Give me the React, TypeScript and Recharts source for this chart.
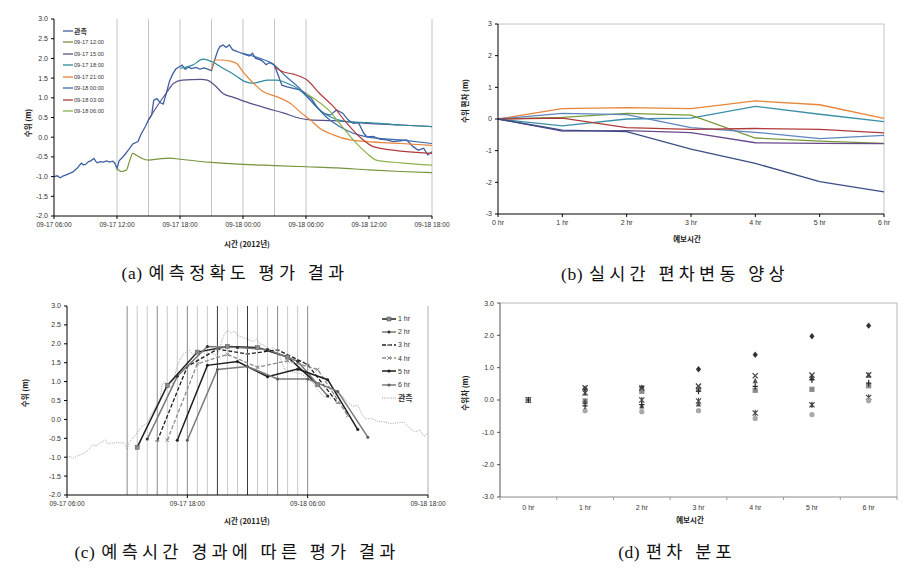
import React from 'react';
import { LineChart, Line, XAxis, YAxis, ReferenceLine, Legend, ComposedChart } from 'recharts';

const KFONT = "'Noto Sans CJK KR', 'Noto Sans', sans-serif";
const NFONT = "'Liberation Sans', 'Noto Sans CJK KR', sans-serif";
const SFONT = "'Liberation Serif', 'DejaVu Serif', 'Noto Sans CJK KR', serif";

// ---------------- data ----------------
const timeTicks6 = [0, 6, 12, 18, 24, 30, 36];
const timeLabels6 = ['09-17 06:00', '09-17 12:00', '09-17 18:00', '09-18 00:00', '09-18 06:00', '09-18 12:00', '09-18 18:00'];
const timeTicks12 = [0, 12, 24, 36];
const timeLabels12 = ['09-17 06:00', '09-17 18:00', '09-18 06:00', '09-18 18:00'];
const levelTicks = [-2, -1.5, -1, -0.5, 0, 0.5, 1, 1.5, 2, 2.5, 3];
const devTicks = [-3, -2, -1, 0, 1, 2, 3];
const issueHours = [6, 9, 12, 15, 18, 21, 24];
const hourlyLines = [7, 8, 10, 11, 13, 14, 16, 17, 19, 20, 22, 23];
const majorLines = [6, 9, 12, 21, 24];
const darkLines = [15, 18];

// observed water level (hours after 09-17 06:00, m)
const observed: [number, number][] = [
  [0, -1.0], [0.3, -0.98], [0.6, -1.03], [0.9, -0.98], [1.1, -0.96], [1.5, -0.92], [1.8, -0.88], [2.2, -0.79],
  [2.4, -0.72], [2.6, -0.66], [2.8, -0.7], [3.0, -0.69], [3.3, -0.62], [3.5, -0.6], [3.8, -0.54], [4.0, -0.62],
  [4.1, -0.65], [4.4, -0.62], [4.7, -0.63], [5.0, -0.6], [5.3, -0.63], [5.6, -0.61], [5.8, -0.66], [6.0, -0.8],
  [6.2, -0.6], [6.6, -0.49], [7.1, -0.32], [7.5, -0.17], [8.0, -0.11], [8.3, 0.08], [8.7, 0.27], [9.0, 0.44],
  [9.3, 0.56], [9.5, 0.94], [9.8, 0.98], [10.1, 0.88], [10.4, 0.84], [10.7, 1.12], [11.0, 1.42], [11.3, 1.6],
  [11.6, 1.73], [11.9, 1.78], [12.2, 1.83], [12.5, 1.72], [12.8, 1.78], [13.1, 1.74], [13.5, 1.77], [13.9, 1.73],
  [14.3, 1.76], [14.7, 1.72], [15.0, 1.69], [15.3, 1.96], [15.6, 2.2], [15.8, 2.3], [16.1, 2.34], [16.4, 2.28],
  [16.7, 2.34], [17.0, 2.22], [17.4, 2.18], [17.7, 2.15], [18.0, 2.12], [18.3, 2.09], [18.6, 2.06], [18.9, 2.13],
  [19.2, 2.0], [19.6, 1.97], [19.9, 1.92], [20.2, 1.84], [20.5, 1.89], [20.8, 1.86], [21.0, 1.82], [21.4, 1.54],
  [21.7, 1.32], [22.2, 1.28], [22.8, 1.24], [23.4, 1.2], [24.0, 1.11], [24.5, 0.99], [25.0, 0.78], [25.6, 0.61],
  [26.3, 0.56], [26.9, 0.69], [27.5, 0.61], [28.0, 0.44], [28.5, 0.35], [29.0, 0.37], [29.5, 0.1], [29.8, 0.01],
  [30.4, 0.02], [31.0, -0.05], [31.7, -0.07], [32.3, -0.11], [33.0, -0.09], [33.6, -0.07], [34.2, -0.24],
  [34.7, -0.33], [35.2, -0.28], [35.6, -0.45], [36.0, -0.37],
];

// forecasts issued at each time (panel a)
const fc1200: [number, number][] = [
  [6, -0.79], [6.4, -0.87], [6.9, -0.83], [7.2, -0.6], [7.5, -0.41], [7.8, -0.45], [8.4, -0.54], [9, -0.58],
  [10, -0.55], [11, -0.53], [12, -0.56], [15, -0.64], [18, -0.69], [21, -0.72], [24, -0.75], [27, -0.78],
  [30, -0.83], [33, -0.87], [36, -0.9],
];
const fc1500: [number, number][] = [
  [9, 0.44], [9.8, 0.78], [10.8, 1.16], [11.4, 1.37], [12.2, 1.45], [14, 1.47], [14.6, 1.45], [15.3, 1.32],
  [16.1, 1.11], [17.1, 1.01], [18.7, 0.86], [20.3, 0.73], [21.9, 0.61], [23.4, 0.48], [24.4, 0.44], [26.6, 0.42],
  [29.8, 0.35], [33, 0.31], [36, 0.27],
];
const fc1800: [number, number][] = [
  [12, 1.75], [13.2, 1.83], [14.2, 1.98], [15, 1.92], [16.1, 1.75], [17.1, 1.6], [18.2, 1.41], [19, 1.37],
  [20.3, 1.45], [21.2, 1.45], [22.2, 1.37], [23.4, 1.2], [24.4, 0.94], [25.3, 0.69], [26.6, 0.48], [28.2, 0.39],
  [29.8, 0.37], [33, 0.31], [36, 0.27],
];
const fc2100: [number, number][] = [
  [15, 1.7], [15.3, 1.96], [15.8, 1.96], [16.8, 1.93], [17.4, 1.87], [18, 1.66], [19, 1.37], [19.9, 1.16],
  [21.2, 1.03], [22.5, 0.86], [23.4, 0.65], [24.4, 0.44], [25.3, 0.23], [26.6, 0.06], [28.2, -0.07],
  [29.8, -0.11], [33, -0.16], [36, -0.21],
];
const fc0000: [number, number][] = [
  [18, 2.13], [19.6, 2.0], [20.8, 1.87], [22.1, 1.54], [23.4, 1.24], [24.7, 0.86], [25.9, 0.52], [27.2, 0.27],
  [28.5, 0.1], [29.8, 0.01], [33, -0.07], [36, -0.16],
];
const fc0300: [number, number][] = [
  [21, 1.79], [21.8, 1.66], [22.8, 1.6], [24.1, 1.45], [25.3, 1.11], [26.6, 0.78], [27.9, 0.35], [29.1, 0.01],
  [30.4, -0.24], [32.3, -0.33], [36, -0.41],
];
const fc0600: [number, number][] = [
  [24, 1.11], [25, 0.94], [26.3, 0.65], [27.2, 0.35], [28.5, -0.07], [29.8, -0.41], [30.7, -0.58], [33, -0.65],
  [36, -0.71],
];
const aNames = ['관측', '09-17 12:00', '09-17 15:00', '09-17 18:00', '09-17 21:00', '09-18 00:00', '09-18 03:00', '09-18 06:00'];

// panel b: deviation by lead time
const leadCats = ['0 hr', '1 hr', '2 hr', '3 hr', '4 hr', '5 hr', '6 hr'];
const devNavy = [0, -0.35, -0.4, -0.95, -1.4, -1.98, -2.3];
const devRed = [0, 0.03, -0.27, -0.33, -0.3, -0.33, -0.44];
const devOlive = [0, 0.05, 0.18, 0.12, -0.6, -0.7, -0.77];
const devPurple = [0, -0.38, -0.37, -0.43, -0.75, -0.77, -0.78];
const devTeal = [0, -0.22, 0.0, 0.03, 0.4, 0.15, -0.08];
const devOrange = [0, 0.33, 0.36, 0.33, 0.57, 0.45, 0.02];
const devSteel = [0, 0.18, 0.14, -0.27, -0.42, -0.62, -0.52];

// panel c: forecasts arranged by lead time
const lead1: [number, number][] = [[7, -0.74], [10, 0.9], [13, 1.78], [16, 1.93], [19, 1.9], [22, 1.65], [25, 0.92]];
const lead2: [number, number][] = [[8, -0.52], [11, 1.14], [14, 1.93], [17, 1.9], [20, 1.85], [23, 1.54], [26, 0.62]];
const lead3: [number, number][] = [[9, -0.57], [12, 1.4], [15, 1.86], [18, 1.73], [21, 1.84], [24, 1.45], [27, 0.43]];
const lead4: [number, number][] = [[10, -0.55], [13, 1.47], [16, 1.72], [19, 1.38], [22, 1.55], [25, 1.32], [28, 0.1]];
const lead5: [number, number][] = [[11, -0.55], [14, 1.43], [17, 1.53], [20, 1.13], [23, 1.33], [26, 1.05], [29, -0.27]];
const lead6: [number, number][] = [[12, -0.55], [15, 1.32], [18, 1.4], [21, 1.07], [24, 1.07], [27, 0.74], [30, -0.47]];
const cNames = ['1 hr', '2 hr', '3 hr', '4 hr', '5 hr', '6 hr', '관측'];

// panel d: deviation distribution (observed - forecast)
const dDiamond = [0, 0.35, 0.38, 0.95, 1.4, 1.97, 2.3];
const dSquare = [0, -0.03, 0.27, 0.33, 0.3, 0.33, 0.44];
const dTriangle = [0, -0.05, -0.18, -0.12, 0.6, 0.7, 0.77];
const dCross = [0, 0.38, 0.37, 0.43, 0.75, 0.77, 0.78];
const dStar = [0, 0.22, 0.0, -0.03, -0.4, -0.15, 0.08];
const dCircle = [0, -0.33, -0.36, -0.33, -0.57, -0.45, -0.02];
const dPlus = [0, -0.18, -0.14, 0.27, 0.42, 0.62, 0.52];

// captions
const captions = [
  { tag: '(a)', text: '예측정확도 평가 결과' },
  { tag: '(b)', text: '실시간 편차변동 양상' },
  { tag: '(c)', text: '예측시간 경과에 따른 평가 결과' },
  { tag: '(d)', text: '편차 분포' },
];

// ---------------- helpers ----------------
const toPts = (arr: [number, number][]) => arr.map(([h, v]) => ({ h, v }));

const aSeries = [observed, fc1200, fc1500, fc1800, fc2100, fc0000, fc0300, fc0600].map(toPts);
const aColors = ['#3F5FA3', '#77933C', '#55528A', '#2F8A9E', '#E8843A', '#3A6AAE', '#B03A3A', '#8DB24E'];

const bLines = [devOrange, devTeal, devOlive, devSteel, devRed, devPurple, devNavy];
const bColors = ['#E8843A', '#3A8EA8', '#7A9A3A', '#5E86C0', '#B03A3A', '#6A4A8F', '#3A4E86'];
const bData = leadCats.map((c, i) => {
  const row: any = { cat: c };
  bLines.forEach((arr, k) => { row['s' + k] = arr[i]; });
  return row;
});

const cSeries = [lead1, lead2, lead3, lead4, lead5, lead6].map(toPts);
const obsPts = toPts(observed);
const cStyles = [
  { stroke: '#1f1f1f', dash: undefined, w: 1.5, mk: 'sq', mc: '#8a8a8a' },
  { stroke: '#7a7a7a', dash: undefined, w: 1.5, mk: 'dot', mc: '#303030' },
  { stroke: '#1f1f1f', dash: '4 2', w: 1.3, mk: 'dash', mc: '#8a8a8a' },
  { stroke: '#8c8c8c', dash: '4 2', w: 1.3, mk: 'x', mc: '#8c8c8c' },
  { stroke: '#1f1f1f', dash: undefined, w: 1.5, mk: 'dot', mc: '#1f1f1f' },
  { stroke: '#7a7a7a', dash: undefined, w: 1.5, mk: 'dot', mc: '#5a5a5a' },
];

const dSets = [dDiamond, dSquare, dTriangle, dCross, dStar, dCircle, dPlus];
const dKinds = ['diamond', 'square', 'triangle', 'x', 'star', 'circle', 'plus'];
const dColors = ['#333333', '#8a8a8a', '#555555', '#444444', '#444444', '#a8a8a8', '#2a2a2a'];
const dData = leadCats.map((c, i) => {
  const row: any = { x: i };
  dSets.forEach((arr, k) => { row['d' + k] = arr[i]; });
  return row;
});
const D_PLOT_W = 465 - 20 - 30 - 18;

const tickStyle = { fontSize: 7, fill: '#333', fontFamily: NFONT };

const cMarker = (kind: string, color: string) => (p: any) => {
  const { cx, cy, index } = p;
  if (cx == null || cy == null) return <g key={index} />;
  if (kind === 'sq') return <rect key={index} x={cx - 2} y={cy - 2} width={4} height={4} fill={color} stroke="#555" strokeWidth={0.5} />;
  if (kind === 'dash') return <line key={index} x1={cx - 2} y1={cy} x2={cx + 2} y2={cy} stroke={color} strokeWidth={1.5} />;
  if (kind === 'x') return <path key={index} d={`M${cx - 1.8},${cy - 1.8}L${cx + 1.8},${cy + 1.8}M${cx + 1.8},${cy - 1.8}L${cx - 1.8},${cy + 1.8}`} stroke={color} strokeWidth={1} />;
  return <circle key={index} cx={cx} cy={cy} r={1.5} fill={color} />;
};

const dMarker = (kind: string, color: string) => (p: any) => {
  const { cx, cy, index } = p;
  if (cx == null || cy == null) return <g key={index} />;
  const s = 2.6;
  switch (kind) {
    case 'diamond':
      return <path key={index} d={`M${cx},${cy - s - 0.6}L${cx + s},${cy}L${cx},${cy + s + 0.6}L${cx - s},${cy}Z`} fill={color} />;
    case 'square':
      return <rect key={index} x={cx - s} y={cy - s} width={2 * s} height={2 * s} fill={color} />;
    case 'triangle':
      return <path key={index} d={`M${cx},${cy - s - 0.5}L${cx + s},${cy + s}L${cx - s},${cy + s}Z`} fill={color} />;
    case 'x':
      return <path key={index} d={`M${cx - s},${cy - s}L${cx + s},${cy + s}M${cx + s},${cy - s}L${cx - s},${cy + s}`} stroke={color} strokeWidth={1.3} />;
    case 'star':
      return <path key={index} d={`M${cx - s},${cy - s}L${cx + s},${cy + s}M${cx + s},${cy - s}L${cx - s},${cy + s}M${cx},${cy - s - 0.5}V${cy + s + 0.5}`} stroke={color} strokeWidth={1.1} />;
    case 'circle':
      return <circle key={index} cx={cx} cy={cy} r={s} fill={color} />;
    default:
      return <path key={index} d={`M${cx - s},${cy}H${cx + s}M${cx},${cy - s - 0.5}V${cy + s + 0.5}`} stroke={color} strokeWidth={1.2} />;
  }
};

const DTick = (props: any) => {
  const { x, y, payload, index } = props;
  const half = D_PLOT_W / leadCats.length / 2;
  const axisY = y - 8;
  return (
    <g>
      <line x1={x - half} y1={axisY} x2={x - half} y2={axisY + 3} stroke="#999" />
      {index === leadCats.length - 1 && <line x1={x + half} y1={axisY} x2={x + half} y2={axisY + 3} stroke="#999" />}
      <text x={x} y={y} dy="0.71em" textAnchor="middle" fontSize={7} fill="#333" fontFamily={NFONT}>
        {leadCats[payload.value]}
      </text>
    </g>
  );
};

const LegendA = () => (
  <div style={{ fontFamily: NFONT, fontSize: 5.6, color: '#333' }}>
    {aNames.map((n, i) => (
      <div key={n} style={{ display: 'flex', alignItems: 'center', height: 11.5 }}>
        <svg width={10} height={4} style={{ display: 'block' }}>
          <line x1={0} y1={2} x2={10} y2={2} stroke={aColors[i]} strokeWidth={1.3} />
        </svg>
        <span style={{ marginLeft: 1, fontFamily: i === 0 ? KFONT : NFONT, fontSize: i === 0 ? 7 : 5.6, fontWeight: i === 0 ? 700 : 400 }}>{n}</span>
      </div>
    ))}
  </div>
);

const LegendC = () => (
  <div style={{ fontFamily: NFONT, fontSize: 7, color: '#333' }}>
    {cNames.map((n, i) => {
      const st = cStyles[i];
      return (
        <div key={n} style={{ display: 'flex', alignItems: 'center', height: 13.2 }}>
          <svg width={14} height={6} style={{ display: 'block' }}>
            {st ? (
              <g>
                <line x1={0} y1={3} x2={14} y2={3} stroke={st.stroke} strokeWidth={st.w} strokeDasharray={st.dash} />
                {cMarker(st.mk, st.mc)({ cx: 7, cy: 3, index: 0 })}
              </g>
            ) : (
              <line x1={0} y1={3} x2={14} y2={3} stroke="#9a9a9a" strokeWidth={1} strokeDasharray="1 1.2" />
            )}
          </svg>
          <span style={{ marginLeft: 2, fontFamily: i === 6 ? KFONT : NFONT, fontWeight: i === 6 ? 700 : 400, fontSize: i === 6 ? 8 : 7 }}>{n}</span>
        </div>
      );
    })}
  </div>
);

const Txt = ({ x, y, rot, size = 7.5, bold = true, font = KFONT, spacing = 0, children }: any) => (
  <div
    style={{
      position: 'absolute', left: x, top: y,
      transform: `translate(-50%, -50%)${rot ? ' rotate(-90deg)' : ''}`,
      whiteSpace: 'nowrap', fontFamily: font, fontSize: size, fontWeight: bold ? 700 : 400,
      color: bold ? '#222' : '#111', letterSpacing: spacing, lineHeight: 1,
    }}
  >
    {children}
  </div>
);

const Caption = ({ x, y, idx }: any) => (
  <Txt x={x} y={y} size={17.5} bold={false} font={SFONT}>
    <span style={{ letterSpacing: 0.5 }}>{captions[idx].tag}</span>
    <span style={{ letterSpacing: 4.2, marginLeft: 6 }}>{captions[idx].text}</span>
  </Txt>
);

const axisCommon = { stroke: '#000', tickSize: 3, tickMargin: 3, tick: tickStyle, interval: 0 as const };

export default function App() {
  return (
    <div style={{ position: 'absolute', left: 0, top: 0, width: 915, height: 569, background: '#fff', overflow: 'hidden' }}>
      {/* (a) */}
      <div style={{ position: 'absolute', left: 0, top: 0 }}>
        <LineChart width={450} height={240} margin={{ top: 19, right: 18, left: 24, bottom: 10 }}>
          <XAxis dataKey="h" type="number" domain={[0, 36]} ticks={timeTicks6} allowDataOverflow
            tickFormatter={(v: number) => timeLabels6[timeTicks6.indexOf(v)]} height={14} {...axisCommon} tick={{ ...tickStyle, fontSize: 6.6 }} />
          <YAxis type="number" domain={[-2, 3]} ticks={levelTicks} allowDataOverflow width={30}
            tickFormatter={(v: number) => v.toFixed(1)} {...axisCommon} />
          {issueHours.map((h) => <ReferenceLine key={h} x={h} stroke="#c4c4c4" strokeWidth={1} />)}
          <ReferenceLine x={36} stroke="#c4c4c4" />
          {aSeries.map((d, i) => (
            <Line key={aNames[i]} data={d} dataKey="v" name={aNames[i]} type={i === 0 ? 'linear' : 'monotone'}
              stroke={aColors[i]} strokeWidth={i === 0 ? 1.3 : 1.2} dot={false} activeDot={false} isAnimationActive={false} />
          ))}
          <Legend content={() => <LegendA />} layout="vertical" align="center" verticalAlign="middle"
            wrapperStyle={{ left: 63, top: 25, width: 'auto', height: 'auto' }} />
        </LineChart>
      </div>
      <Txt x={28} y={123} rot>수위 (m)</Txt>
      <Txt x={247} y={244}>시간 (2012년)</Txt>
      <Caption x={235} y={274} idx={0} />

      {/* (b) */}
      <div style={{ position: 'absolute', left: 450, top: 0 }}>
        <LineChart width={465} height={240} data={bData} margin={{ top: 24, right: 31, left: 23, bottom: 12 }}>
          <XAxis dataKey="cat" height={14} {...axisCommon} />
          <YAxis type="number" domain={[-3, 3]} ticks={devTicks} width={25} {...axisCommon} />
          <ReferenceLine y={3} stroke="#c4c4c4" />
          <ReferenceLine x="6 hr" stroke="#c4c4c4" />
          {bLines.map((_, k) => (
            <Line key={k} dataKey={'s' + k} type="linear" stroke={bColors[k]} strokeWidth={1.3}
              dot={false} activeDot={false} isAnimationActive={false} />
          ))}
        </LineChart>
      </div>
      <Txt x={465} y={101} rot>수위 편차 (m)</Txt>
      <Txt x={687} y={239}>예보시간</Txt>
      <Caption x={675} y={275} idx={1} />

      {/* (c) */}
      <div style={{ position: 'absolute', left: 0, top: 300 }}>
        <LineChart width={450} height={230} margin={{ top: 6, right: 22, left: 37, bottom: 21 }}>
          <XAxis dataKey="h" type="number" domain={[0, 36]} ticks={timeTicks12} allowDataOverflow
            tickFormatter={(v: number) => timeLabels12[timeTicks12.indexOf(v)]} height={14} {...axisCommon} tick={{ ...tickStyle, fontSize: 6.6 }} />
          <YAxis type="number" domain={[-2, 3]} ticks={levelTicks} allowDataOverflow width={30}
            tickFormatter={(v: number) => v.toFixed(1)} {...axisCommon} />
          {hourlyLines.map((h) => <ReferenceLine key={'m' + h} x={h} stroke="#c8c8c8" />)}
          {majorLines.map((h) => <ReferenceLine key={'M' + h} x={h} stroke="#8a8a8a" />)}
          {darkLines.map((h) => <ReferenceLine key={'D' + h} x={h} stroke="#3a3a3a" />)}
          <ReferenceLine x={36} stroke="#b0b0b0" />
          <Line data={obsPts} dataKey="v" name="관측" type="linear" stroke="#a0a0a0" strokeWidth={1}
            strokeDasharray="1 1.3" dot={false} activeDot={false} isAnimationActive={false} />
          {cSeries.map((d, i) => (
            <Line key={cNames[i]} data={d} dataKey="v" name={cNames[i]} type="linear" stroke={cStyles[i].stroke}
              strokeWidth={cStyles[i].w} strokeDasharray={cStyles[i].dash} dot={cMarker(cStyles[i].mk, cStyles[i].mc)}
              activeDot={false} isAnimationActive={false} />
          ))}
          <Legend content={() => <LegendC />} layout="vertical" align="center" verticalAlign="middle"
            wrapperStyle={{ left: 382, top: 12, width: 'auto', height: 'auto' }} />
        </LineChart>
      </div>
      <Txt x={25} y={393} rot>수위 (m)</Txt>
      <Txt x={247} y={521}>시간 (2011년)</Txt>
      <Caption x={237} y={553} idx={2} />

      {/* (d) */}
      <div style={{ position: 'absolute', left: 450, top: 300 }}>
        <ComposedChart width={465} height={230} data={dData} margin={{ top: 3, right: 18, left: 20, bottom: 19 }}>
          <XAxis dataKey="x" type="number" domain={[-0.5, 6.5]} ticks={[0, 1, 2, 3, 4, 5, 6]} interval={0}
            height={14} stroke="#8a8a8a" tickLine={false} tickSize={0} tickMargin={8} tick={<DTick />} />
          <YAxis type="number" domain={[-3, 3]} ticks={devTicks} width={30} {...axisCommon} stroke="#555"
            tickFormatter={(v: number) => v.toFixed(1)} />
          <ReferenceLine y={3} stroke="#b8b8b8" />
          <ReferenceLine x={6.5} stroke="#b8b8b8" />
          {dSets.map((_, k) => (
            <Line key={k} dataKey={'d' + k} stroke="none" dot={dMarker(dKinds[k], dColors[k])}
              activeDot={false} isAnimationActive={false} legendType="none" />
          ))}
        </ComposedChart>
      </div>
      <Txt x={465} y={393} rot>수위차 (m)</Txt>
      <Txt x={690} y={520}>예보시간</Txt>
      <Caption x={677} y={553} idx={3} />
    </div>
  );
}
